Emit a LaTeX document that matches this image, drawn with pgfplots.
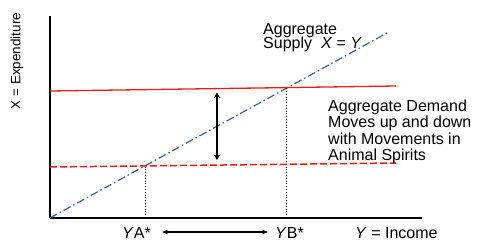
\documentclass[border=0pt]{standalone}
\usepackage{pgfplots}
\pgfplotsset{compat=1.18}
\usepackage{fontspec}
\setmainfont{Liberation Sans}
\usetikzlibrary{arrows.meta}
\definecolor{adred}{RGB}{225,30,35}
\definecolor{asblue}{RGB}{55,100,155}
\begin{document}
\begin{tikzpicture}
\begin{axis}[
  scale only axis, width=372pt, height=202pt,
  xmin=0, xmax=372, ymin=0, ymax=202,
  axis lines=left,
  axis line style={-, line width=1.7pt, black},
  xtick=\empty, ytick=\empty,
  clip=false,
]
% aggregate supply X = Y
\addplot[asblue, line width=1.2pt, dash pattern=on 8pt off 3pt on 1.5pt off 3pt] coordinates {(0,0) (337,185)};
% aggregate demand high
\addplot[adred, line width=1.3pt] coordinates {(0,127) (346,132)};
% aggregate demand low
\addplot[adred, line width=1.5pt, dash pattern=on 7pt off 3pt] coordinates {(0,51) (346,55)};
% dotted verticals
\addplot[black, line width=0.7pt, dash pattern=on 1pt off 1.8pt] coordinates {(95,0) (95,52)};
\addplot[black, line width=0.7pt, dash pattern=on 1pt off 1.8pt] coordinates {(236.5,0) (236.5,130)};
% vertical double arrow
\addplot[black, line width=1.9pt, {Stealth[length=5.5pt,width=6.5pt]}-{Stealth[length=5.5pt,width=6.5pt]}] coordinates {(167,58) (167,125.5)};
% bottom double arrow
\addplot[black, line width=1.1pt, {Stealth[length=6pt,width=4.5pt]}-{Stealth[length=6pt,width=4.5pt]}] coordinates {(112,-14) (218,-14)};
\begin{scope}[every node/.style={inner sep=0pt, font=\fontsize{16}{16}\selectfont}]
\node[anchor=base west] at (axis cs:213,184) {Aggregate};
\node[anchor=base west] at (axis cs:213,169.3) {Supply\ \ \textit{X} = \textit{Y}};
\node[anchor=base west] at (axis cs:278,107) {Aggregate Demand};
\node[anchor=base west] at (axis cs:278,90.5) {Moves up and down};
\node[anchor=base west] at (axis cs:278,74) {with Movements in};
\node[anchor=base west] at (axis cs:278,57.5) {Animal Spirits};
\node[anchor=base west] at (axis cs:72,-20) {\textit{Y}A*};
\node[anchor=base west] at (axis cs:225,-20) {\textit{Y}B*};
\node[anchor=base west] at (axis cs:305,-20) {\textit{Y} = Income};
\node[rotate=90, anchor=center, font=\fontsize{13.5}{13.5}\selectfont] at (axis cs:-33,157) {X = Expenditure};
\end{scope}
\coordinate (bbl) at (axis cs:-50,-32);
\coordinate (btr) at (axis cs:450,218);
\end{axis}
\pgfresetboundingbox
\path[use as bounding box] (bbl) rectangle (btr);
\end{tikzpicture}
\end{document}
